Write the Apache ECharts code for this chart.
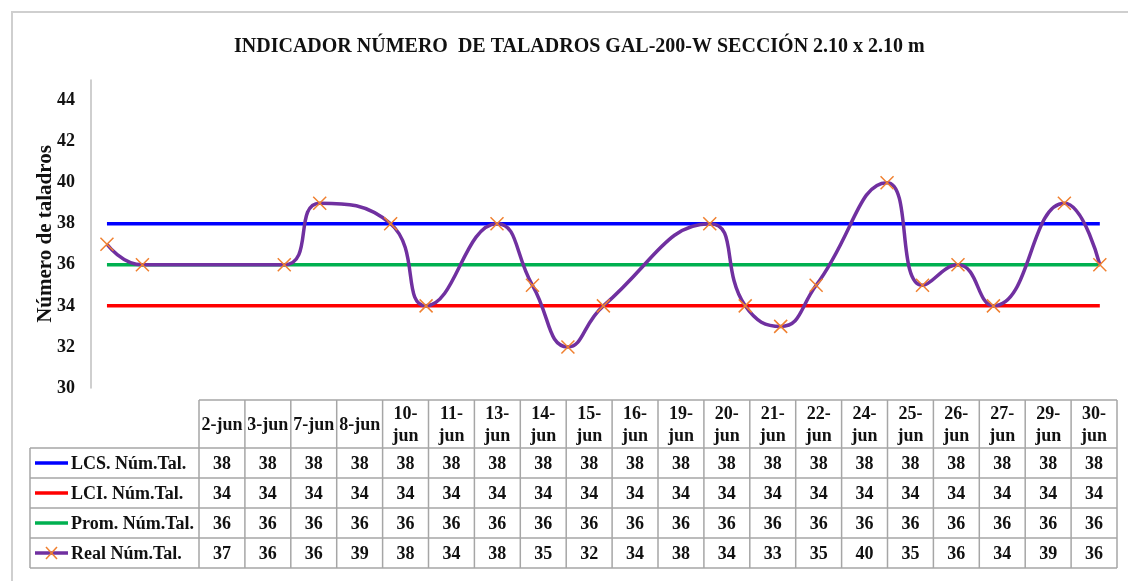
<!DOCTYPE html>
<html>
<head>
<meta charset="utf-8">
<script src="https://cdn.jsdelivr.net/npm/echarts@6/dist/echarts.min.js"></script>
<style>
  html, body { margin: 0; padding: 0; background: #fff; }
  #chart { width: 1128px; height: 581px; }
</style>
</head>
<body>
<div id="chart"></div>
<script>
// fechas (día de junio) y etiquetas de la tabla
const days = [2, 3, 7, 8, 10, 11, 13, 14, 15, 16, 19, 20, 21, 22, 24, 25, 26, 27, 29, 30]
const categories = ['2-jun', '3-jun', '7-jun', '8-jun', '10-jun', '11-jun', '13-jun', '14-jun', '15-jun', '16-jun',
  '19-jun', '20-jun', '21-jun', '22-jun', '24-jun', '25-jun', '26-jun', '27-jun', '29-jun', '30-jun']

const lcs = [38, 38, 38, 38, 38, 38, 38, 38, 38, 38, 38, 38, 38, 38, 38, 38, 38, 38, 38, 38]
const lci = [34, 34, 34, 34, 34, 34, 34, 34, 34, 34, 34, 34, 34, 34, 34, 34, 34, 34, 34, 34]
const prom = [36, 36, 36, 36, 36, 36, 36, 36, 36, 36, 36, 36, 36, 36, 36, 36, 36, 36, 36, 36]
const real = [37, 36, 36, 39, 38, 34, 38, 35, 32, 34, 38, 34, 33, 35, 40, 35, 36, 34, 39, 36]

const yTicks = [30, 32, 34, 36, 38, 40, 42, 44]

const FONT = 'Liberation Serif'
const COLORS = { lcs: '#0000FF', lci: '#FF0000', prom: '#00B050', real: '#7030A0', mark: '#F08030' }

const rows = [
  { name: 'LCS. Núm.Tal.', values: lcs, color: COLORS.lcs },
  { name: 'LCI. Núm.Tal.', values: lci, color: COLORS.lci },
  { name: 'Prom. Núm.Tal.', values: prom, color: COLORS.prom },
  { name: 'Real Núm.Tal.', values: real, color: COLORS.real, mark: true }
]

const chart = echarts.init(document.getElementById('chart'))

// tabla de datos debajo del gráfico
function buildTable() {
  const els = []
  const x0 = 199, colW = 45.9, headTop = 400, headH = 48, rowH = 30, labelX = 30
  const border = '#a6a6a6'
  const textStyle = { fontFamily: FONT, fontWeight: 'bold', fontSize: 18, fill: '#111', align: 'center', verticalAlign: 'middle' }
  const x1 = x0 + colW * categories.length
  const bodyTop = headTop + headH
  const bodyBottom = bodyTop + rowH * rows.length

  // lineas horizontales
  els.push({ type: 'line', shape: { x1: x0, y1: headTop, x2: x1, y2: headTop }, style: { stroke: border, lineWidth: 1.5 } })
  for (let r = 0; r <= rows.length; r++) {
    const y = bodyTop + r * rowH
    els.push({ type: 'line', shape: { x1: labelX, y1: y, x2: x1, y2: y }, style: { stroke: border, lineWidth: 1.5 } })
  }
  // lineas verticales
  els.push({ type: 'line', shape: { x1: labelX, y1: bodyTop, x2: labelX, y2: bodyBottom }, style: { stroke: border, lineWidth: 1.5 } })
  for (let c = 0; c <= categories.length; c++) {
    const x = x0 + c * colW
    els.push({ type: 'line', shape: { x1: x, y1: headTop, x2: x, y2: bodyBottom }, style: { stroke: border, lineWidth: 1.5 } })
  }
  // encabezados
  categories.forEach((cat, c) => {
    const txt = cat.length > 5 ? cat.replace('-', '-\n') : cat
    els.push({ type: 'text', x: x0 + c * colW + colW / 2, y: headTop + headH / 2 + 1,
      style: Object.assign({}, textStyle, { text: txt, lineHeight: 22 }) })
  })
  // filas
  rows.forEach((row, r) => {
    const cy = bodyTop + r * rowH + rowH / 2 + 1
    els.push({ type: 'line', shape: { x1: 35, y1: cy - 1, x2: 68, y2: cy - 1 }, style: { stroke: row.color, lineWidth: 3.5 } })
    if (row.mark) {
      els.push({ type: 'line', shape: { x1: 46, y1: cy - 7, x2: 57, y2: cy + 5 }, style: { stroke: COLORS.mark, lineWidth: 1.5 } })
      els.push({ type: 'line', shape: { x1: 57, y1: cy - 7, x2: 46, y2: cy + 5 }, style: { stroke: COLORS.mark, lineWidth: 1.5 } })
    }
    els.push({ type: 'text', x: 71, y: cy, style: Object.assign({}, textStyle, { text: row.name, align: 'left' }) })
    row.values.forEach((v, c) => {
      els.push({ type: 'text', x: x0 + c * colW + colW / 2, y: cy, style: Object.assign({}, textStyle, { text: String(v) }) })
    })
  })
  return els
}

const xMin = 1.55, xMax = 30.4

const lineSeries = (name, vals, color) => ({
  name: name,
  type: 'line',
  data: days.map((d, i) => [d, vals[i]]),
  symbol: 'none',
  lineStyle: { color: color, width: 3.5 },
  z: 2
})

chart.setOption({
  animation: false,
  backgroundColor: '#fff',
  title: {
    text: 'INDICADOR NÚMERO  DE TALADROS GAL-200-W SECCIÓN 2.10 x 2.10 m',
    left: 229,
    top: 32,
    textStyle: { fontFamily: FONT, fontWeight: 'bold', fontSize: 20, color: '#111' }
  },
  grid: { left: 91, top: 80, right: 14, height: 308 },
  xAxis: {
    type: 'value',
    min: xMin,
    max: xMax,
    show: false
  },
  yAxis: {
    type: 'value',
    min: 30,
    max: 45,
    interval: 2,
    name: 'Número de taladros',
    nameLocation: 'middle',
    nameRotate: 90,
    nameGap: 35,
    nameMoveOverlap: false,
    nameTextStyle: { fontFamily: FONT, fontWeight: 'bold', fontSize: 21, color: '#111' },
    axisLine: { show: true, lineStyle: { color: '#bfbfbf', width: 1.5 } },
    axisTick: { show: false },
    splitLine: { show: false },
    axisLabel: {
      margin: 16,
      fontFamily: FONT, fontWeight: 'bold', fontSize: 18, color: '#111',
      formatter: v => (yTicks.indexOf(v) >= 0 ? String(v) : '')
    }
  },
  series: [
    lineSeries('LCS. Núm.Tal.', lcs, COLORS.lcs),
    lineSeries('LCI. Núm.Tal.', lci, COLORS.lci),
    lineSeries('Prom. Núm.Tal.', prom, COLORS.prom),
    {
      name: 'Real Núm.Tal.',
      type: 'line',
      data: days.map((d, i) => [d, real[i]]),
      smooth: 0.5,
      symbol: 'path://M0,0L10,10M10,0L0,10',
      symbolSize: 13,
      itemStyle: { color: COLORS.mark, borderColor: COLORS.mark, borderWidth: 1.5 },
      lineStyle: { color: COLORS.real, width: 3.5 },
      z: 3
    }
  ],
  graphic: [
    { type: 'rect', shape: { x: 12, y: 12, width: 1300, height: 800 }, style: { fill: 'none', stroke: '#cfcfcf', lineWidth: 2 }, silent: true }
  ].concat(buildTable())
})
</script>
</body>
</html>
